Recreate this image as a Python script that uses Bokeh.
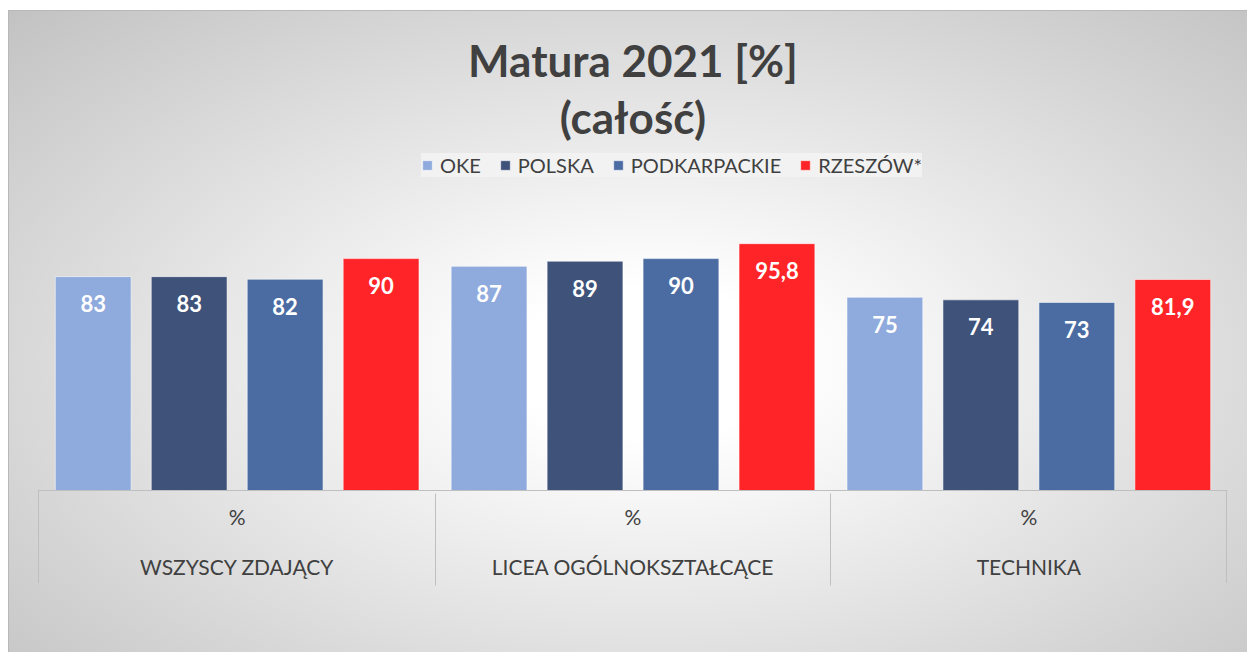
from bokeh.plotting import figure
from bokeh.models import (ColumnDataSource, FactorRange, Range1d, LabelSet, Label,
                          CustomJSTickFormatter)
from bokeh.core.properties import value
from bokeh.embed import file_html
from bokeh.resources import INLINE

# ---- data -------------------------------------------------------------
groups = ["WSZYSCY ZDAJĄCY", "LICEA OGÓLNOKSZTAŁCĄCE", "TECHNIKA"]
unit_label = "%"
series = ["OKE", "POLSKA", "PODKARPACKIE", "RZESZÓW*"]
oke = [83, 87, 75]
polska = [83, 89, 74]
podkarpackie = [82, 90, 73]
rzeszow = [90, 95.8, 81.9]
colors = ["#8faadc", "#3e527a", "#4a6ca3", "#ff2428"]
title_lines = ["Matura 2021 [%]", "(całość)"]

values_by_series = [oke, polska, podkarpackie, rzeszow]

FONT = "Lato"
TXT = "#404040"
GRID = "#bfbfbf"

xs, vals, labs, cols, sers = [], [], [], [], []
for gi, g in enumerate(groups):
    for si, s in enumerate(series):
        v = values_by_series[si][gi]
        # trailing newline = extra line space between the two label rows
        xs.append((g + "\n", unit_label + "\n", s))
        vals.append(v)
        labs.append(f"{v:g}".replace(".", ","))
        cols.append(colors[si])
        sers.append(s)

src = ColumnDataSource(dict(x=xs, value=vals, label=labs, color=cols, series=sers))

GP, RP = 0.125, 0.07
x_range = FactorRange(*xs, factor_padding=0, subgroup_padding=0,
                      group_padding=GP, range_padding=RP,
                      range_padding_units="absolute")

W, H = 1239, 642
BL, BR, BB = 30, 20, 162
FW = W - BL - BR
FH = H - BB
Y_END = 186.3
SEP = 93  # length of the category separators below the baseline (px)
p = figure(width=W, height=H, x_range=x_range, y_range=Range1d(0, Y_END),
           output_backend="svg", toolbar_location=None, title=None,
           y_axis_location=None, min_border_left=BL, min_border_right=BR,
           min_border_top=0, min_border_bottom=BB)

p.background_fill_alpha = 0
p.border_fill_alpha = 0
p.outline_line_color = None
p.grid.visible = False
edge = f"linear-gradient({GRID}, {GRID})"
p.styles = {
    "margin-left": "8px",
    "margin-top": "10px",
    "background": (
        f"{edge} {BL}px {FH}px / 1px {SEP}px no-repeat, "
        f"{edge} {BL + FW - 1}px {FH}px / 1px {SEP}px no-repeat, "
        "radial-gradient(farthest-corner at 52% 55%, #ffffff 0%, #ffffff 15%, #c2c2c2 100%)"
    ),
    "box-shadow": "inset 1px 1px 0 0 #b8b8b8",
}

p.vbar(x="x", top="value", width=0.79, source=src, fill_color="color",
       line_color="white", line_alpha=0.55, line_width=1, legend_field="series")

labels = LabelSet(x="x", y="value", text="label", source=src, text_align="center",
                  text_baseline="middle", y_offset=-27, text_color="white",
                  text_font=value(FONT), text_font_style="bold", text_font_size="22px")
p.add_layout(labels)

for txt, ypos in zip(title_lines, [431, 374]):
    p.add_layout(Label(x=FW / 2, y=ypos, x_units="screen", y_units="screen", text=txt,
                       text_align="center", text_baseline="middle", text_color=TXT,
                       text_font=FONT, text_font_style="bold",
                       text_font_size="44px"))

ax = p.xaxis[0]
ax.axis_line_color = GRID
ax.axis_line_width = 1
ax.major_tick_line_color = None
ax.minor_tick_line_color = None
ax.major_tick_out = 0
ax.major_tick_in = 0
ax.minor_tick_out = 0
ax.formatter = CustomJSTickFormatter(code="return ''")
ax.major_label_text_font_size = "1px"
ax.major_label_standoff = 13
ax.subgroup_text_font = FONT
ax.subgroup_text_font_size = "21px"
ax.subgroup_text_color = TXT
ax.subgroup_text_font_style = "normal"
ax.subgroup_text_line_height = 0.38
ax.group_text_font = FONT
ax.group_text_font_size = "21px"
ax.group_text_color = TXT
ax.group_text_font_style = "normal"
ax.group_text_line_height = 0.38
ax.separator_line_color = GRID
ax.separator_line_width = 1

lg = p.legend[0]
lg.orientation = "horizontal"
lg.location = (383, 313)
lg.glyph_width = 12
lg.glyph_height = 12
lg.label_standoff = 7
lg.spacing = 18
lg.padding = 13
lg.margin = 0
lg.label_height = 21
lg.label_text_font = FONT
lg.label_text_font_size = "20px"
lg.label_text_color = TXT
lg.background_fill_color = "#f2f2f2"
lg.background_fill_alpha = 1.0
lg.border_line_color = None

open("out.html", "w").write(file_html(p, INLINE))
